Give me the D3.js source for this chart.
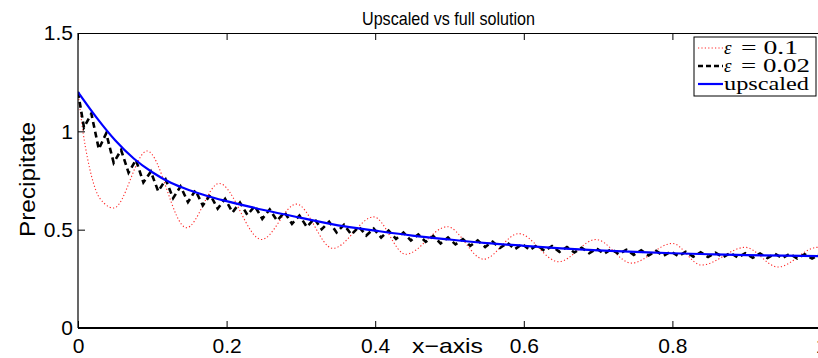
<!DOCTYPE html>
<html>
<head>
<meta charset="utf-8">
<script src="https://cdn.jsdelivr.net/npm/d3@7"></script>
<style>
  html, body { margin: 0; padding: 0; background: #fff; overflow: hidden; }
  svg { display: block; }
</style>
</head>
<body>
<svg id="chart" width="818" height="358"></svg>
<script>
// ---------------- data ----------------
const xTicks = [0, 0.2, 0.4, 0.6, 0.8, 1];
const xTickLabels = ["0", "0.2", "0.4", "0.6", "0.8", "1"];
const yTicks = [0, 0.5, 1, 1.5];
const yTickLabels = ["0", "0.5", "1", "1.5"];

// upscaled solution (smooth)
const upscaledX = [0, 0.025, 0.05, 0.075, 0.1, 0.125, 0.15, 0.175, 0.2, 0.25, 0.3, 0.35, 0.4, 0.45, 0.5, 0.55, 0.6, 0.65, 0.7, 0.75, 0.8, 0.85, 0.9, 0.95, 1.0];
const upscaledY = [1.2, 1.07, 0.955, 0.862, 0.792, 0.738, 0.70, 0.67, 0.645, 0.60, 0.56, 0.522, 0.495, 0.47, 0.45, 0.432, 0.418, 0.405, 0.395, 0.387, 0.38, 0.375, 0.371, 0.368, 0.365];

// eps = 0.1 (start of the curve, then extrema of the oscillation)
const eps1X = [0, 0.007, 0.013, 0.024, 0.035, 0.048, 0.093, 0.146, 0.19, 0.247, 0.294, 0.343, 0.398, 0.441, 0.497, 0.546, 0.593, 0.647, 0.697, 0.745, 0.8, 0.839, 0.898, 0.942, 0.995, 1.0];
const eps1Y = [1.2, 0.99, 0.86, 0.70, 0.635, 0.61, 0.90, 0.51, 0.735, 0.45, 0.63, 0.405, 0.565, 0.375, 0.515, 0.35, 0.48, 0.337, 0.45, 0.33, 0.43, 0.32, 0.41, 0.31, 0.41, 0.405];

// eps = 0.02 : value at x = 0, then extrema every 0.01 starting at x = 0.008
const eps2First = 0.008, eps2Step = 0.01;
const eps2Y = [1.2,
  1.02, 1.09, 0.91, 0.99, 0.84, 0.905, 0.79, 0.855, 0.74, 0.795,
  0.695, 0.755, 0.66, 0.72, 0.64, 0.70, 0.623, 0.677, 0.607, 0.657,
  0.588, 0.638, 0.575, 0.62, 0.555, 0.603, 0.546, 0.588, 0.53, 0.572,
  0.514, 0.556, 0.502, 0.54, 0.486, 0.525, 0.475, 0.515, 0.47, 0.505,
  0.46, 0.495, 0.453, 0.485, 0.445, 0.476, 0.438, 0.468, 0.43, 0.46,
  0.425, 0.452, 0.418, 0.445, 0.412, 0.439, 0.407, 0.433, 0.401, 0.427,
  0.397, 0.422, 0.392, 0.417, 0.387, 0.412, 0.384, 0.408, 0.38, 0.404,
  0.378, 0.401, 0.375, 0.398, 0.372, 0.395, 0.369, 0.392, 0.367, 0.389,
  0.365, 0.387, 0.363, 0.385, 0.361, 0.383, 0.359, 0.382, 0.358, 0.38,
  0.357, 0.379, 0.356, 0.378, 0.355, 0.377, 0.354, 0.375, 0.353, 0.374];

const legendSymbols = ["ε", "ε", ""];
const legendValues = ["= 0.1", "= 0.02", "upscaled"];

// ---------------- layout ----------------
const svg = d3.select("#chart");
const pLeft = 78, pRight = 821, pTop = 33, pBottom = 328;
const x = d3.scaleLinear().domain([0, 1]).range([pLeft, pRight]);
const y = d3.scaleLinear().domain([0, 1.5]).range([pBottom, pTop]);

svg.append("clipPath").attr("id", "plotclip")
  .append("rect").attr("x", pLeft).attr("y", pTop).attr("width", pRight - pLeft).attr("height", pBottom - pTop);

const plot = svg.append("g").attr("clip-path", "url(#plotclip)");

const eps1 = eps1X.map((d, i) => [d, eps1Y[i]]);
const eps2 = eps2Y.map((v, i) => [i === 0 ? 0 : eps2First + eps2Step * (i - 1), v]);
const ups = upscaledX.map((d, i) => [d, upscaledY[i]]);

const lineMono = d3.line().x(d => x(d[0])).y(d => y(d[1])).curve(d3.curveMonotoneX);
const lineLin = d3.line().x(d => x(d[0])).y(d => y(d[1])).curve(d3.curveLinear);

plot.append("path").attr("d", lineMono(eps1))
  .attr("fill", "none").attr("stroke", "#ff0000").attr("stroke-width", 1.1)
  .attr("stroke-dasharray", "1.2,2.2").attr("opacity", 0.85);

plot.append("path").attr("d", lineLin(eps2))
  .attr("fill", "none").attr("stroke", "#000").attr("stroke-width", 2.6)
  .attr("stroke-dasharray", "6,4");

plot.append("path").attr("d", lineMono(ups))
  .attr("fill", "none").attr("stroke", "#0000ff").attr("stroke-width", 2.2);

// ---------------- axes ----------------
const font = "'Liberation Sans', Arial, Helvetica, sans-serif";

const xAxis = d3.axisBottom(x).tickValues(xTicks).tickFormat((d, i) => xTickLabels[i]).tickSize(-7);
const gx = svg.append("g").attr("transform", `translate(0,${pBottom})`).call(xAxis);
gx.select(".domain").remove();
gx.selectAll("line").attr("stroke", "#000").attr("stroke-width", 1);
gx.selectAll("text").attr("font-family", font).attr("font-size", 21).attr("fill", "#000")
  .attr("y", 25).attr("dy", null);

const xAxisTop = d3.axisTop(x).tickValues(xTicks).tickFormat("").tickSize(-7);
const gxt = svg.append("g").attr("transform", `translate(0,${pTop})`).call(xAxisTop);
gxt.select(".domain").remove();
gxt.selectAll("line").attr("stroke", "#000");

const yAxis = d3.axisLeft(y).tickValues(yTicks).tickFormat((d, i) => yTickLabels[i]).tickSize(-7).tickPadding(5);
const gy = svg.append("g").attr("transform", `translate(${pLeft},0)`).call(yAxis);
gy.select(".domain").remove();
gy.selectAll("line").attr("stroke", "#000");
gy.selectAll("text").attr("font-family", font).attr("font-size", 21).attr("fill", "#000");

// frame
svg.append("line").attr("x1", pLeft).attr("x2", pLeft).attr("y1", pTop).attr("y2", pBottom).attr("stroke", "#000").attr("stroke-width", 1.2);
svg.append("line").attr("x1", pLeft).attr("x2", pRight).attr("y1", pTop + 0.5).attr("y2", pTop + 0.5).attr("stroke", "#000").attr("stroke-width", 1);
svg.append("line").attr("x1", pLeft).attr("x2", pRight).attr("y1", pBottom).attr("y2", pBottom).attr("stroke", "#000").attr("stroke-width", 2);

// titles
svg.append("text").attr("x", 362).attr("y", 25)
  .attr("font-family", font).attr("font-size", 19)
  .attr("textLength", 173).attr("lengthAdjust", "spacingAndGlyphs")
  .text("Upscaled vs full solution");
svg.append("text").attr("x", 412).attr("y", 353)
  .attr("font-family", font).attr("font-size", 21)
  .attr("textLength", 71).attr("lengthAdjust", "spacingAndGlyphs")
  .text("x−axis");
svg.append("text").attr("transform", "translate(35,237) rotate(-90)")
  .attr("font-family", font).attr("font-size", 22)
  .attr("textLength", 115).attr("lengthAdjust", "spacingAndGlyphs")
  .text("Precipitate");

// ---------------- legend ----------------
const lg = svg.append("g");
const lx = 694, ly = 37, lw = 122, lh = 59;
lg.append("rect").attr("x", lx).attr("y", ly).attr("width", lw).attr("height", lh)
  .attr("fill", "#fff").attr("stroke", "#000").attr("stroke-width", 1);
const styles = [
  {stroke: "#ff0000", w: 1.1, dash: "1.2,2.2", op: 0.85},
  {stroke: "#000", w: 2.6, dash: "5,3", op: 1},
  {stroke: "#0000ff", w: 2.2, dash: null, op: 1}
];
const rowY = [48, 66, 84];
const textW = [57, 69, 85];
const serif = "'Liberation Serif', 'DejaVu Serif', serif";
legendValues.forEach((lab, i) => {
  const yy = rowY[i];
  const ln = lg.append("line").attr("x1", lx + 4).attr("x2", lx + 29).attr("y1", yy).attr("y2", yy)
    .attr("stroke", styles[i].stroke).attr("stroke-width", styles[i].w).attr("opacity", styles[i].op);
  if (styles[i].dash) ln.attr("stroke-dasharray", styles[i].dash);
  if (legendSymbols[i]) {
    lg.append("text").attr("x", lx + 30).attr("y", yy + 6)
      .attr("font-family", serif).attr("font-size", 19).attr("font-style", "italic")
      .text(legendSymbols[i]);
    lg.append("text").attr("x", lx + 47).attr("y", yy + 6)
      .attr("font-family", serif).attr("font-size", 19)
      .attr("textLength", textW[i]).attr("lengthAdjust", "spacingAndGlyphs")
      .text(lab);
  } else {
    lg.append("text").attr("x", lx + 30).attr("y", yy + 6)
      .attr("font-family", serif).attr("font-size", 19)
      .attr("textLength", textW[i]).attr("lengthAdjust", "spacingAndGlyphs")
      .text(lab);
  }
});
</script>
</body>
</html>
